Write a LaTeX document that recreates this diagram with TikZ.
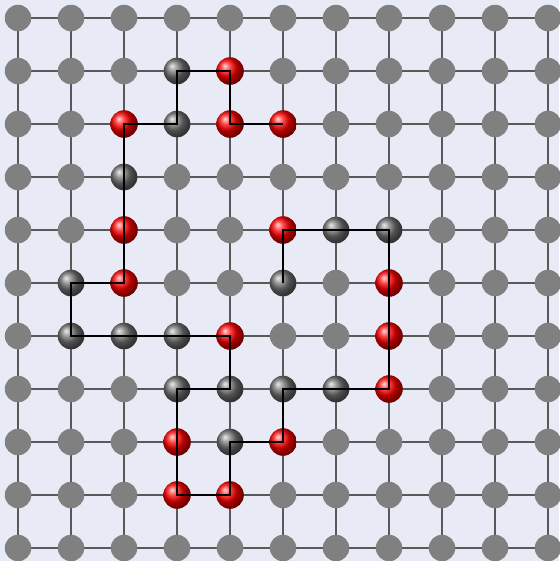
\documentclass[tikz,border=0pt]{standalone}
\usepackage{tikz}
\definecolor{latticebg}{HTML}{E8EAF6}

\begin{document}
\begin{tikzpicture}[
x=1cm, y=-1cm,
site/.style={circle, fill=gray, minimum size=0.5cm, inner sep=0pt},
hball/.style={circle, shading=ball, ball color=red, minimum size=0.52cm, inner sep=0pt},
pball/.style={circle, shading=ball, ball color=black!55, minimum size=0.5cm, inner sep=0pt},
gridline/.style={draw=black!65, line width=0.65pt},
chain/.style={draw=black, line width=1pt}
]

% Background
\fill[latticebg] (-0.34,-0.34) rectangle (10.21,10.245);
\useasboundingbox (-0.34,-0.34) rectangle (10.21,10.245);

% Lattice points
\foreach \i in {0,...,10}
  \foreach \j in {0,...,10}
    \coordinate (c-\i-\j) at (\i,\j);

% Lattice lines
\foreach \k in {0,...,10} {
  \draw[gridline] (c-0-\k) -- (c-10-\k);
  \draw[gridline] (c-\k-0) -- (c-\k-10);
}

% Empty sites
\foreach \i in {0,...,10}
  \foreach \j in {0,...,10}
    \node[site] (g-\i-\j) at (c-\i-\j) {};

% Residues (H = red, P = dark)
\foreach \x/\y/\t [count=\n] in {
  5/2/hball, 4/2/hball, 4/1/hball, 3/1/pball, 3/2/pball,
  2/2/hball, 2/3/pball, 2/4/hball, 2/5/hball, 1/5/pball,
  1/6/pball, 2/6/pball, 3/6/pball, 4/6/hball, 4/7/pball,
  3/7/pball, 3/8/hball, 3/9/hball, 4/9/hball, 4/8/pball,
  5/8/hball, 5/7/pball, 6/7/pball, 7/7/hball, 7/6/hball,
  7/5/hball, 7/4/pball, 6/4/pball, 5/4/hball, 5/5/pball}
  \node[\t] (r\n) at (c-\x-\y) {};

% Backbone
\draw[chain] (r1.center) \foreach \n in {2,...,30} {-- (r\n.center)};

\end{tikzpicture}
\end{document}
